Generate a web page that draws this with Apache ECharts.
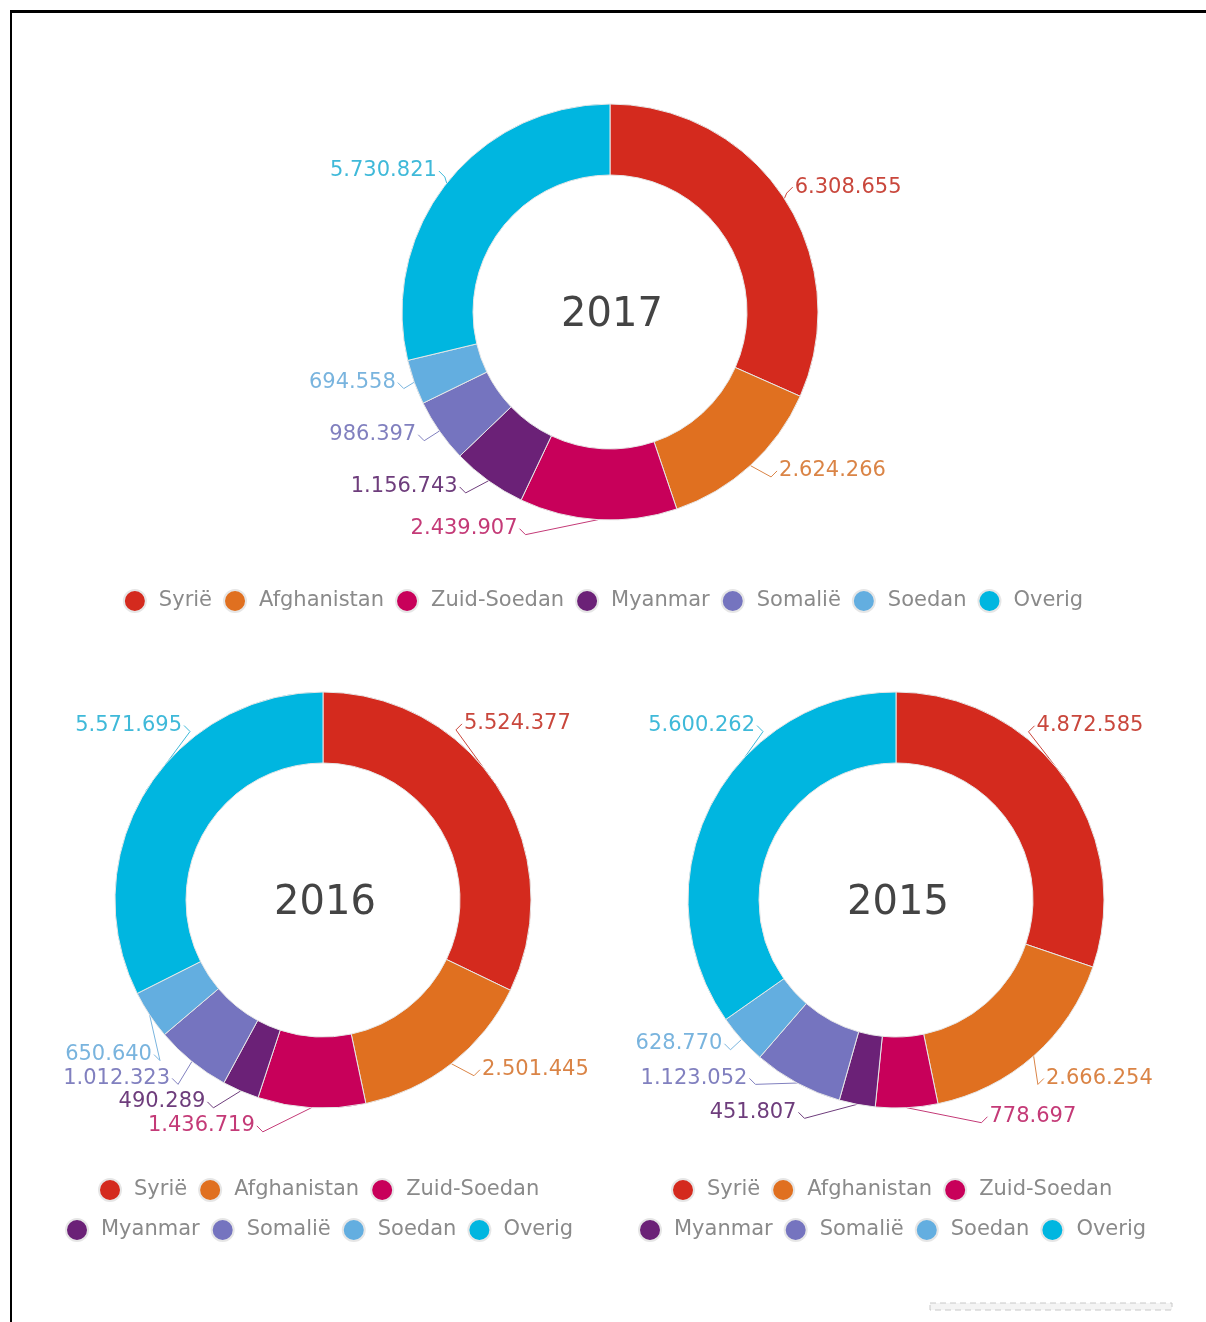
<!DOCTYPE html>
<html>
<head>
<meta charset="utf-8">
<script src="https://cdn.jsdelivr.net/npm/echarts@6/dist/echarts.min.js"></script>
<style>
  html, body { margin: 0; padding: 0; background: #fff; overflow: hidden; }
  #frame {
    position: absolute; left: 10px; top: 10px; width: 1300px; height: 1400px;
    border-left: 2px solid #000; border-top: 3px solid #000;
  }
  #chart { position: absolute; left: 0; top: 0; width: 1206px; height: 1322px; }
</style>
</head>
<body>
<div id="frame"></div>
<div id="chart"></div>
<script>
  // landen (volgorde met de klok mee vanaf boven)
  const countries = ['Syrië', 'Afghanistan', 'Zuid-Soedan', 'Myanmar', 'Somalië', 'Soedan', 'Overig'];
  const years = ['2017', '2016', '2015'];
  // aantallen per jaar
  const values2017 = [6308655, 2624266, 2439907, 1156743, 986397, 694558, 5730821];
  const values2016 = [5524377, 2501445, 1436719, 490289, 1012323, 650640, 5571695];
  const values2015 = [4872585, 2666254, 778697, 451807, 1123052, 628770, 5600262];

  const colors = ['#D42A1E', '#E07020', '#C8005A', '#6B2177', '#7574BF', '#63AEE0', '#00B6E0'];
  const labelColors = ['#C9473C', '#DA8446', '#C43A77', '#6E3D7C', '#8180BF', '#79B4DE', '#3FB9D9'];

  // kleine verschuiving van de labels [dx, dy] per jaar/land
  const labelShift = [
    [[-13, -6], [7, -2], [-65, -1], [-10, -2], [0, -2], [6, -3], [13, -6]],
    [[-60, -58], [9, -5], [-43, -1], [-11, -2], [0, 6], [24, 32], [61, -58]],
    [[-53, -45], [-10, 12], [69, -5], [-45, -6], [-33, -17], [0, -5], [69, -72]],
  ];

  const fmt = v => String(v).replace(/\B(?=(\d{3})+(?!\d))/g, '.');
  const font = 'DejaVu Sans, Verdana, sans-serif';

  const chart = echarts.init(document.getElementById('chart'));

  // layout per donut
  const pies = [
    { name: years[0], values: values2017, center: [610, 312], line: [10, 10] },
    { name: years[1], values: values2016, center: [323, 900], line: [14, 8] },
    { name: years[2], values: values2015, center: [896, 900], line: [14, 8] },
  ];

  const legendBase = {
    orient: 'horizontal',
    icon: 'circle',
    itemWidth: 22,
    itemHeight: 22,
    itemGap: 11,
    padding: 0,
    textStyle: { fontFamily: font, fontSize: 21, color: '#8a8a8a', padding: [0, 0, 0, 8] },
  };

  // label verschuiven en de lijn opnieuw naar het label trekken
  const makeLabelLayout = si => params => {
    const s = labelShift[si][params.dataIndex];
    const r = params.labelRect;
    const pts = params.labelLinePoints;
    const res = { dx: s[0], dy: s[1], hideOverlap: false };
    if (pts && pts.length) {
      const start = pts[0];
      const right = pts[pts.length - 1][0] >= start[0];
      const cy = r.y + s[1] + r.height / 2;
      const ex = right ? r.x + s[0] - 2 : r.x + s[0] + r.width + 2;
      const mx = right ? ex - 6 : ex + 6;
      res.labelLinePoints = [start, [mx, cy + 6], [ex, cy]];
    }
    return res;
  };

  const option = {
    animation: false,
    color: colors,
    title: pies.map(p => ({
      text: p.name,
      left: p.center[0] + 2,
      top: p.center[1] + 4,
      padding: 0,
      textAlign: 'center',
      textVerticalAlign: 'middle',
      textStyle: { fontFamily: font, fontSize: 40, fontWeight: 'normal', color: '#444' },
    })),
    legend: [
      { ...legendBase, data: countries, left: 'center', top: 589 },
      { ...legendBase, data: countries.slice(0, 3), left: 98, top: 1178 },
      { ...legendBase, data: countries.slice(3), left: 65, top: 1218 },
      { ...legendBase, data: countries.slice(0, 3), left: 671, top: 1178 },
      { ...legendBase, data: countries.slice(3), left: 638, top: 1218 },
    ],
    series: pies.map((p, si) => ({
      type: 'pie',
      name: p.name,
      center: p.center,
      radius: [137, 208],
      startAngle: 90,
      clockwise: true,
      itemStyle: { borderColor: '#e6e6e6', borderWidth: 1 },
      label: {
        show: true,
        position: 'outside',
        fontFamily: font,
        fontSize: 21,
        overflow: 'none',
        formatter: d => fmt(d.value),
      },
      labelLine: { show: true, length: p.line[0], length2: p.line[1], lineStyle: { width: 1 } },
      labelLayout: makeLabelLayout(si),
      emphasis: { disabled: true },
      data: countries.map((c, i) => ({
        name: c,
        value: p.values[i],
        label: { color: labelColors[i] },
        labelLine: { lineStyle: { color: labelColors[i] } },
      })),
    })),
    graphic: [{
      type: 'rect',
      shape: { x: 930, y: 1303, width: 242, height: 7 },
      style: { fill: '#f4f4f4', stroke: '#c8c8c8', lineWidth: 1, lineDash: [6, 4] },
    }],
  };

  chart.setOption(option);
</script>
</body>
</html>
